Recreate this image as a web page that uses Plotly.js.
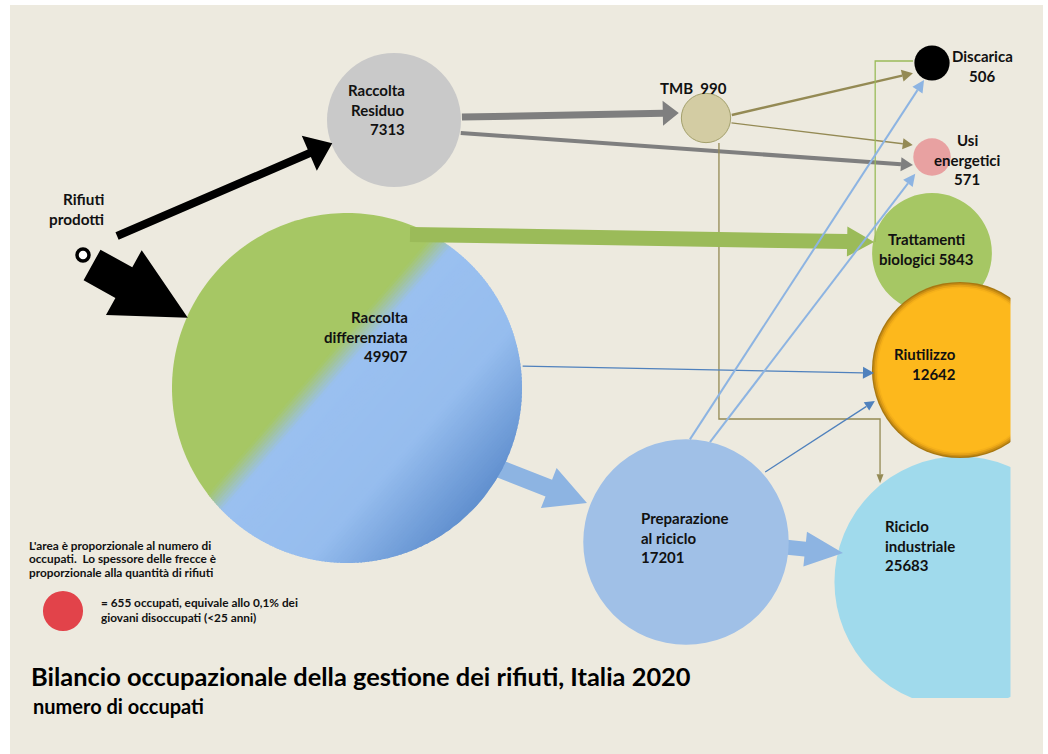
<!DOCTYPE html>
<html><head><meta charset="utf-8">
<script src="https://cdn.plot.ly/plotly-3.0.1.min.js"></script>
<style>html,body{margin:0;padding:0;background:#fff}#chart{width:1048px;height:754px}</style>
</head><body><div id="chart"></div>
<script>
// ---------------- DATA ----------------
const nodeNames = ["Raccolta<br>Residuo", "Raccolta<br>differenziata", "TMB", "Discarica", "Usi<br>energetici",
                   "Trattamenti<br>biologici", "Riutilizzo", "Preparazione<br>al riciclo", "Riciclo<br>industriale"];
const nodeValues = [7313, 49907, 990, 506, 571, 5843, 12642, 17201, 25683];
const valueJoin = ["<br>", "<br>", "\u00a0\u00a0", "<br>", "<br>", " ", "<br>", "<br>", "<br>"];
const sourceName = "Rifiuti<br>prodotti";
// flows: -1 = Rifiuti prodotti
const linkFrom = [-1, -1, 0, 0, 2, 2, 2, 5, 1, 1, 1, 7, 7, 7, 7];
const linkTo   = [ 0,  1, 2, 4, 3, 4, 8, 3, 5, 6, 7, 8, 3, 4, 6];
const legendValue = 655;
const legendNoteLines = ["L'area è proporzionale al numero di", "occupati.\u00a0 Lo spessore delle frecce è", "proporzionale alla quantità di rifiuti"];
const legendKeyLines = ["= 655 occupati, equivale allo 0,1% dei", "giovani disoccupati (&lt;25 anni)"];
const titleText = "Bilancio occupazionale della gestione dei rifiuti, Italia 2020";
const subtitleText = "numero di occupati";

// ---------------- LAYOUT (positions / styles) ----------------
const PX_PER_SQRT = 0.7834;           // circle area proportional to employees
const nodeX = [394, 347, 706, 932, 932, 932, 960, 686, 960];
const nodeY = [120, 388, 118, 63, 157, 253, 370, 542, 582];
const nodeColor = ["#C9C9C9", "gradient", "#D3CCA3", "#000000", "#E8A1A1", "#A6C764", "#FDB81C", "#A0C0E7", "#A0DAEC"];
const labelX = [406, 409, 693, 982, 967, 926, 957, 640, 884];
const labelY = [90, 317, 88, 56, 140, 239, 354, 518, 526];
const labelAnchor = ["right", "right", "center", "center", "center", "center", "right", "left", "left"];
const labelGap = 19.7;
const sourceX = 83, sourceY = 255;

const linkOutAng = [-29.2, 48, -2.5, 11, -6.6, 10.9, 62.5, 191, -67.7, -7.1, 28.8, 2.6, -87.8, -76.5, -41.5];
const linkOutOff = [39, 13.5, 1, 1, 1.3, 1.3, 3.4, -2, -9, 2, -23, -13.7, 0, 0, 3];
const linkInAng  = [159.3, 203.8, 190.5, 157, 152, 212, 231, 186, 190.7, 178, 201.5, 193.9, 115, 135, 160];
const linkInGap  = [-1, -1, 3, 2, 4, 4, 1.5, 1.4, -1, -2, 3.7, -5, 1.2, 5, 2.5];
const linkKind   = ["fat", "fat", "fat", "thin", "thin", "thin", "elbow", "corner", "fat", "thin", "fat", "fat", "thin", "thin", "thin"];
const linkColor  = ["#000000", "#000000", "#7F7F7F", "#7F7F7F", "#948A54", "#948A54", "#948A54", "#9BBB59", "#9BBB59",
                    "#4F81BD", "#8DB4E2", "#8DB4E2", "#8DB4E2", "#8DB4E2", "#4F81BD"];
const linkWidth  = [8, 35, 7, 4, 2.5, 1.3, 1.3, 1.3, 15, 1.3, 18, 15, 2, 2, 1.3];
const linkHeadW  = [38, 74, 25, 14, 12, 11, 7, 0, 30, 12, 43, 35, 12, 12, 10];
const linkHeadL  = [25, 73, 16, 12, 11, 10, 9, 0, 27, 11, 41, 38, 12, 12, 10];
const linkLayer  = [2, 2, 2, 2, 2, 2, 2, 2, 2, 2, 1, 1, 2, 2, 2];
const elbowY = 419;

const BEIGE = "#EDEADF";
const FONT = "Lato, 'Open Sans', sans-serif";
const TXT = "#111111";
const LABEL_SIZE = 15;

// ---------------- HELPERS ----------------
function radius(v) { return PX_PER_SQRT * Math.sqrt(v); }
function nodeR(i) { return i < 0 ? 0 : radius(nodeValues[i]); }
function cx(i) { return i < 0 ? sourceX : nodeX[i]; }
function cy(i) { return i < 0 ? sourceY : nodeY[i]; }
function polar(i, angDeg, off) {
  const a = angDeg * Math.PI / 180, d = nodeR(i) + off;
  return [cx(i) + d * Math.cos(a), cy(i) + d * Math.sin(a)];
}
function pathOf(pts) {
  return "M" + pts.map(p => p[0].toFixed(2) + "," + p[1].toFixed(2)).join(" L") + " Z";
}
function circ(x, y, r, color, line) {
  return {type: "circle", xref: "x", yref: "y", x0: x - r, x1: x + r, y0: y - r, y1: y + r,
          fillcolor: color, line: line || {width: 0}};
}
function poly(pts, color) {
  return {type: "path", xref: "x", yref: "y", path: pathOf(pts), fillcolor: color, line: {width: 0}};
}
function hex2rgb(h) { return [parseInt(h.slice(1, 3), 16), parseInt(h.slice(3, 5), 16), parseInt(h.slice(5, 7), 16)]; }
function colorAt(stops, d) {
  if (d <= stops[0][0]) return stops[0][1];
  for (let k = 1; k < stops.length; k++) {
    if (d <= stops[k][0]) {
      const t = (d - stops[k - 1][0]) / (stops[k][0] - stops[k - 1][0]);
      const a = hex2rgb(stops[k - 1][1]), b = hex2rgb(stops[k][1]);
      return "rgb(" + a.map((v, j) => Math.round(v + (b[j] - v) * t)).join(",") + ")";
    }
  }
  return stops[stops.length - 1][1];
}
function gradientCircle(x, y, r, angDeg, stops, step) {
  const a = angDeg * Math.PI / 180;
  const e1 = [Math.cos(a), Math.sin(a)], e2 = [-Math.sin(a), Math.cos(a)];
  const P = t => [x + r * (Math.cos(t) * e1[0] + Math.sin(t) * e2[0]), y + r * (Math.cos(t) * e1[1] + Math.sin(t) * e2[1])];
  const out = [];
  const bands = [[-r, stops[1][0] + 1, stops[0][1]]];
  for (let d = stops[1][0]; d < r; d += step) bands.push([d - 0.6, Math.min(r, d + step + 0.6), colorAt(stops, d + step / 2)]);
  bands.forEach(b => {
    const tLo = Math.acos(Math.max(-1, Math.min(1, b[0] / r)));
    const tHi = Math.acos(Math.max(-1, Math.min(1, b[1] / r)));
    const N = Math.max(6, Math.ceil((tLo - tHi) * 40));
    const pts = [];
    for (let k = 0; k <= N; k++) pts.push(P(tHi + (tLo - tHi) * k / N));
    for (let k = 0; k <= N; k++) pts.push(P(-tLo + (tLo - tHi) * k / N));
    out.push(poly(pts, b[2]));
  });
  return out;
}
function linkShapes(j) {
  const S = polar(linkFrom[j], linkOutAng[j], linkOutOff[j]);
  const E = polar(linkTo[j], linkInAng[j], linkInGap[j]);
  const col = linkColor[j], w = linkWidth[j], HW = linkHeadW[j], HL = linkHeadL[j];
  const res = [];
  const head = (from, tip) => {
    const dx = tip[0] - from[0], dy = tip[1] - from[1], L = Math.hypot(dx, dy);
    const u = [dx / L, dy / L], n = [-u[1], u[0]];
    const B = [tip[0] - HL * u[0], tip[1] - HL * u[1]];
    return {B: B, u: u, n: n, tri: [[B[0] + n[0] * HW / 2, B[1] + n[1] * HW / 2], tip, [B[0] - n[0] * HW / 2, B[1] - n[1] * HW / 2]]};
  };
  const ln = (p, q) => ({type: "line", xref: "x", yref: "y", x0: p[0], y0: p[1], x1: q[0], y1: q[1], line: {color: col, width: w}});
  if (linkKind[j] === "fat") {
    const h = head(S, E), n = h.n, B = h.B;
    res.push(poly([[S[0] + n[0] * w / 2, S[1] + n[1] * w / 2], [B[0] + n[0] * w / 2, B[1] + n[1] * w / 2],
                   h.tri[0], E, h.tri[2],
                   [B[0] - n[0] * w / 2, B[1] - n[1] * w / 2], [S[0] - n[0] * w / 2, S[1] - n[1] * w / 2]], col));
  } else if (linkKind[j] === "thin") {
    const h = head(S, E);
    res.push(ln(S, h.B));
    res.push(poly(h.tri, col));
  } else if (linkKind[j] === "elbow") {
    const p1 = [S[0], elbowY], p2 = [E[0], elbowY];
    const h = head(p2, E);
    res.push({type: "path", xref: "x", yref: "y",
              path: "M" + S.join(",") + " L" + p1.join(",") + " L" + p2.join(",") + " L" + h.B.join(","),
              line: {color: col, width: w}});
    res.push(poly(h.tri, col));
  } else {
    const p1 = [S[0], E[1]];
    res.push({type: "path", xref: "x", yref: "y", path: "M" + S.join(",") + " L" + p1.join(",") + " L" + E.join(","),
              line: {color: col, width: w}});
  }
  return res;
}
function nodeShapes(i) {
  const r = nodeR(i), x = nodeX[i], y = nodeY[i];
  if (nodeColor[i] === "gradient") {
    return gradientCircle(x, y, r, 41, [[-175, "#A6C764"], [-35, "#A6C764"], [-13, "#9AC0F0"], [85, "#96BDEE"], [175, "#6190CF"]], 2.5);
  }
  if (i === 6) { // Riutilizzo: soft darker rim
    return [circ(x, y, r, "#A97810"), circ(x, y, r - 1.3, "#C98D13"), circ(x, y, r - 2.8, "#E4A117"),
            circ(x, y, r - 4.5, "#F6B11A"), circ(x, y, r - 6, nodeColor[i])];
  }
  if (i === 2) return [circ(x, y, r, nodeColor[i], {color: "#A3A06C", width: 1})];
  return [circ(x, y, r, nodeColor[i])];
}

// ---------------- SHAPES ----------------
let shapes = [];
shapes.push({type: "rect", xref: "x", yref: "y", x0: 10, x1: 1043, y0: 5, y1: 754, fillcolor: BEIGE, line: {width: 0}, layer: "below"});
[8, 5, 6].forEach(i => shapes = shapes.concat(nodeShapes(i)));
linkFrom.forEach((_, j) => { if (linkLayer[j] === 1) shapes = shapes.concat(linkShapes(j)); });
[1, 7, 0, 2, 3, 4].forEach(i => shapes = shapes.concat(nodeShapes(i)));
linkFrom.forEach((_, j) => { if (linkLayer[j] === 2) shapes = shapes.concat(linkShapes(j)); });
// source marker and legend circle
shapes.push(circ(sourceX, sourceY, 6, "#FFFFFF", {color: "#000000", width: 3.5}));
shapes.push(circ(63, 611, radius(legendValue), "#E2434A"));
// page frame clipping the large circles
shapes.push({type: "rect", xref: "x", yref: "y", x0: 1010.5, x1: 1043, y0: 5, y1: 754, fillcolor: BEIGE, line: {width: 0}});
shapes.push({type: "rect", xref: "x", yref: "y", x0: 820, x1: 1011, y0: 698, y1: 754, fillcolor: BEIGE, line: {width: 0}});
shapes.push({type: "rect", xref: "x", yref: "y", x0: 1043, x1: 1049, y0: -1, y1: 755, fillcolor: "#FFFFFF", line: {width: 0}});

// ---------------- ANNOTATIONS ----------------
const annotations = [];
function addLines(lines, x, y0, gap, anchor, size) {
  lines.forEach((t, k) => annotations.push({x: x, y: y0 + k * gap, xref: "x", yref: "y", text: t, showarrow: false,
    xanchor: anchor, yanchor: "middle", borderpad: 0,
    font: {family: FONT, size: size, color: TXT, weight: 700}}));
}
nodeNames.forEach((nm, i) => {
  const full = nm + valueJoin[i] + nodeValues[i];
  addLines(full.split("<br>"), labelX[i], labelY[i], labelGap, labelAnchor[i], LABEL_SIZE);
});
addLines(sourceName.split("<br>"), 105, 199, 19.7, "right", 15.3);
addLines(legendNoteLines, 28, 545, 13.8, "left", 11.8);
addLines(legendKeyLines, 100, 602, 15.5, "left", 11.8);
annotations.push({x: 31, y: 706, xref: "x", yref: "y", text: subtitleText, showarrow: false, xanchor: "left", yanchor: "middle",
  font: {family: FONT, size: 20, color: "#000", weight: 700}});

// hover helper trace (node centres)
const trace = {type: "scatter", mode: "markers", x: nodeX, y: nodeY,
  text: nodeNames.map((n, i) => n.replace("<br>", " ") + ": " + nodeValues[i] + " occupati"),
  hoverinfo: "text", marker: {size: 2, opacity: 0}, showlegend: false};

const layout = {
  width: 1048, height: 754, margin: {l: 0, r: 0, t: 0, b: 0, pad: 0},
  paper_bgcolor: "#FFFFFF", plot_bgcolor: "rgba(0,0,0,0)",
  xaxis: {range: [0, 1048], visible: false, fixedrange: true},
  yaxis: {range: [754, 0], visible: false, fixedrange: true},
  title: {text: titleText, x: 31 / 1048, xanchor: "left", y: 1 - 677 / 754, yanchor: "middle",
          font: {family: FONT, size: 25.4, color: "#000", weight: 700}},
  shapes: shapes, annotations: annotations, showlegend: false, hovermode: "closest"
};
Plotly.newPlot("chart", [trace], layout, {displayModeBar: false, staticPlot: false});
</script></body></html>
